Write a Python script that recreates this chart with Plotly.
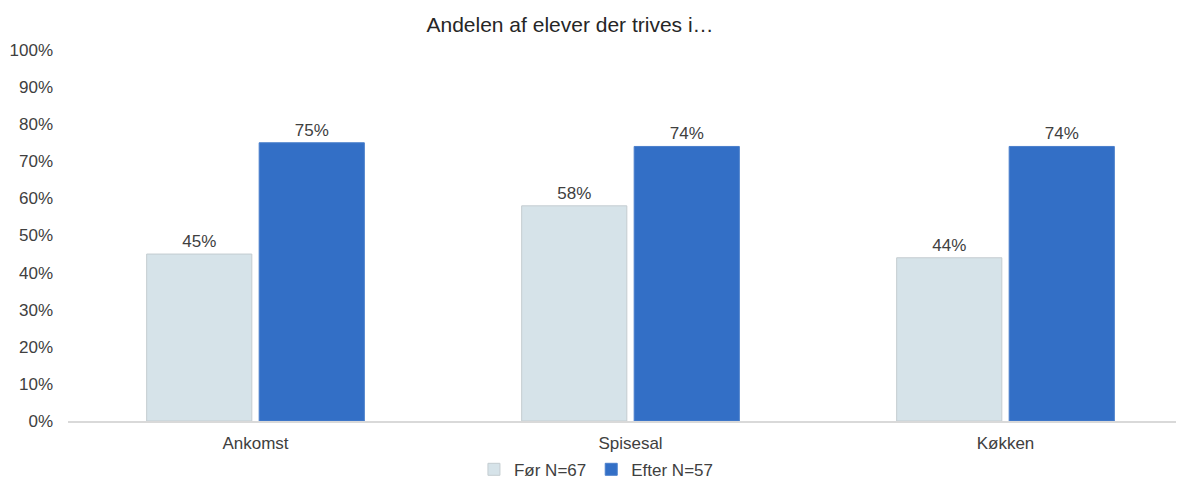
import plotly.graph_objects as go

categories = ["Ankomst", "Spisesal", "Køkken"]
foer_values = [45, 58, 44]
efter_values = [75, 74, 74]
series_names = ["Før N=67", "Efter N=57"]
y_ticks = [0, 10, 20, 30, 40, 50, 60, 70, 80, 90, 100]
y_tick_labels = [f"{v}%" for v in y_ticks]

font_family = "Liberation Sans, Arial, sans-serif"
label_size = 17

fig = go.Figure()
fig.add_trace(go.Bar(
    x=categories, y=foer_values, name=series_names[0],
    marker=dict(color="#D6E3E9", line=dict(color="#C4CCD0", width=1)),
    text=[f"{v}%" for v in foer_values], textposition="outside",
    textfont=dict(size=label_size, color="#404040", family=font_family),
    cliponaxis=False,
))
fig.add_trace(go.Bar(
    x=categories, y=efter_values, name=series_names[1],
    marker=dict(color="#336FC6", line=dict(color="#4A7FCB", width=1)),
    text=[f"{v}%" for v in efter_values], textposition="outside",
    textfont=dict(size=label_size, color="#404040", family=font_family),
    cliponaxis=False,
))

fig.update_layout(
    width=1184, height=479,
    margin=dict(l=60, r=8, t=42, b=66, autoexpand=False),
    paper_bgcolor="white", plot_bgcolor="white",
    barmode="group", bargap=0.4, bargroupgap=0.065,
    font=dict(family=font_family, color="#404040", size=label_size),
    title=dict(text="Andelen af elever der trives i…", x=0.4747, xanchor="center",
               xref="container", yref="container",
               y=0.965, yanchor="middle", font=dict(size=21, color="#262626")),
    showlegend=True,
    legend=dict(orientation="h", xref="container", yref="container",
                x=0.497, xanchor="center", y=0.036, yanchor="middle",
                font=dict(size=label_size, color="#404040"), itemwidth=30,
                traceorder="normal", itemclick=False),
    xaxis=dict(range=[-0.5, 2.476], showline=True, linecolor="#D9D9D9", linewidth=2,
               ticks="", showgrid=False, automargin=False, ticklabelstandoff=6,
               tickfont=dict(size=label_size, color="#404040")),
    yaxis=dict(range=[0, 100], tickvals=y_ticks, ticktext=y_tick_labels, showgrid=False,
               zeroline=False, showline=False, ticks="", ticklabelstandoff=14,
               automargin=False, tickfont=dict(size=label_size, color="#404040")),
)

fig.write_html("out.html")
